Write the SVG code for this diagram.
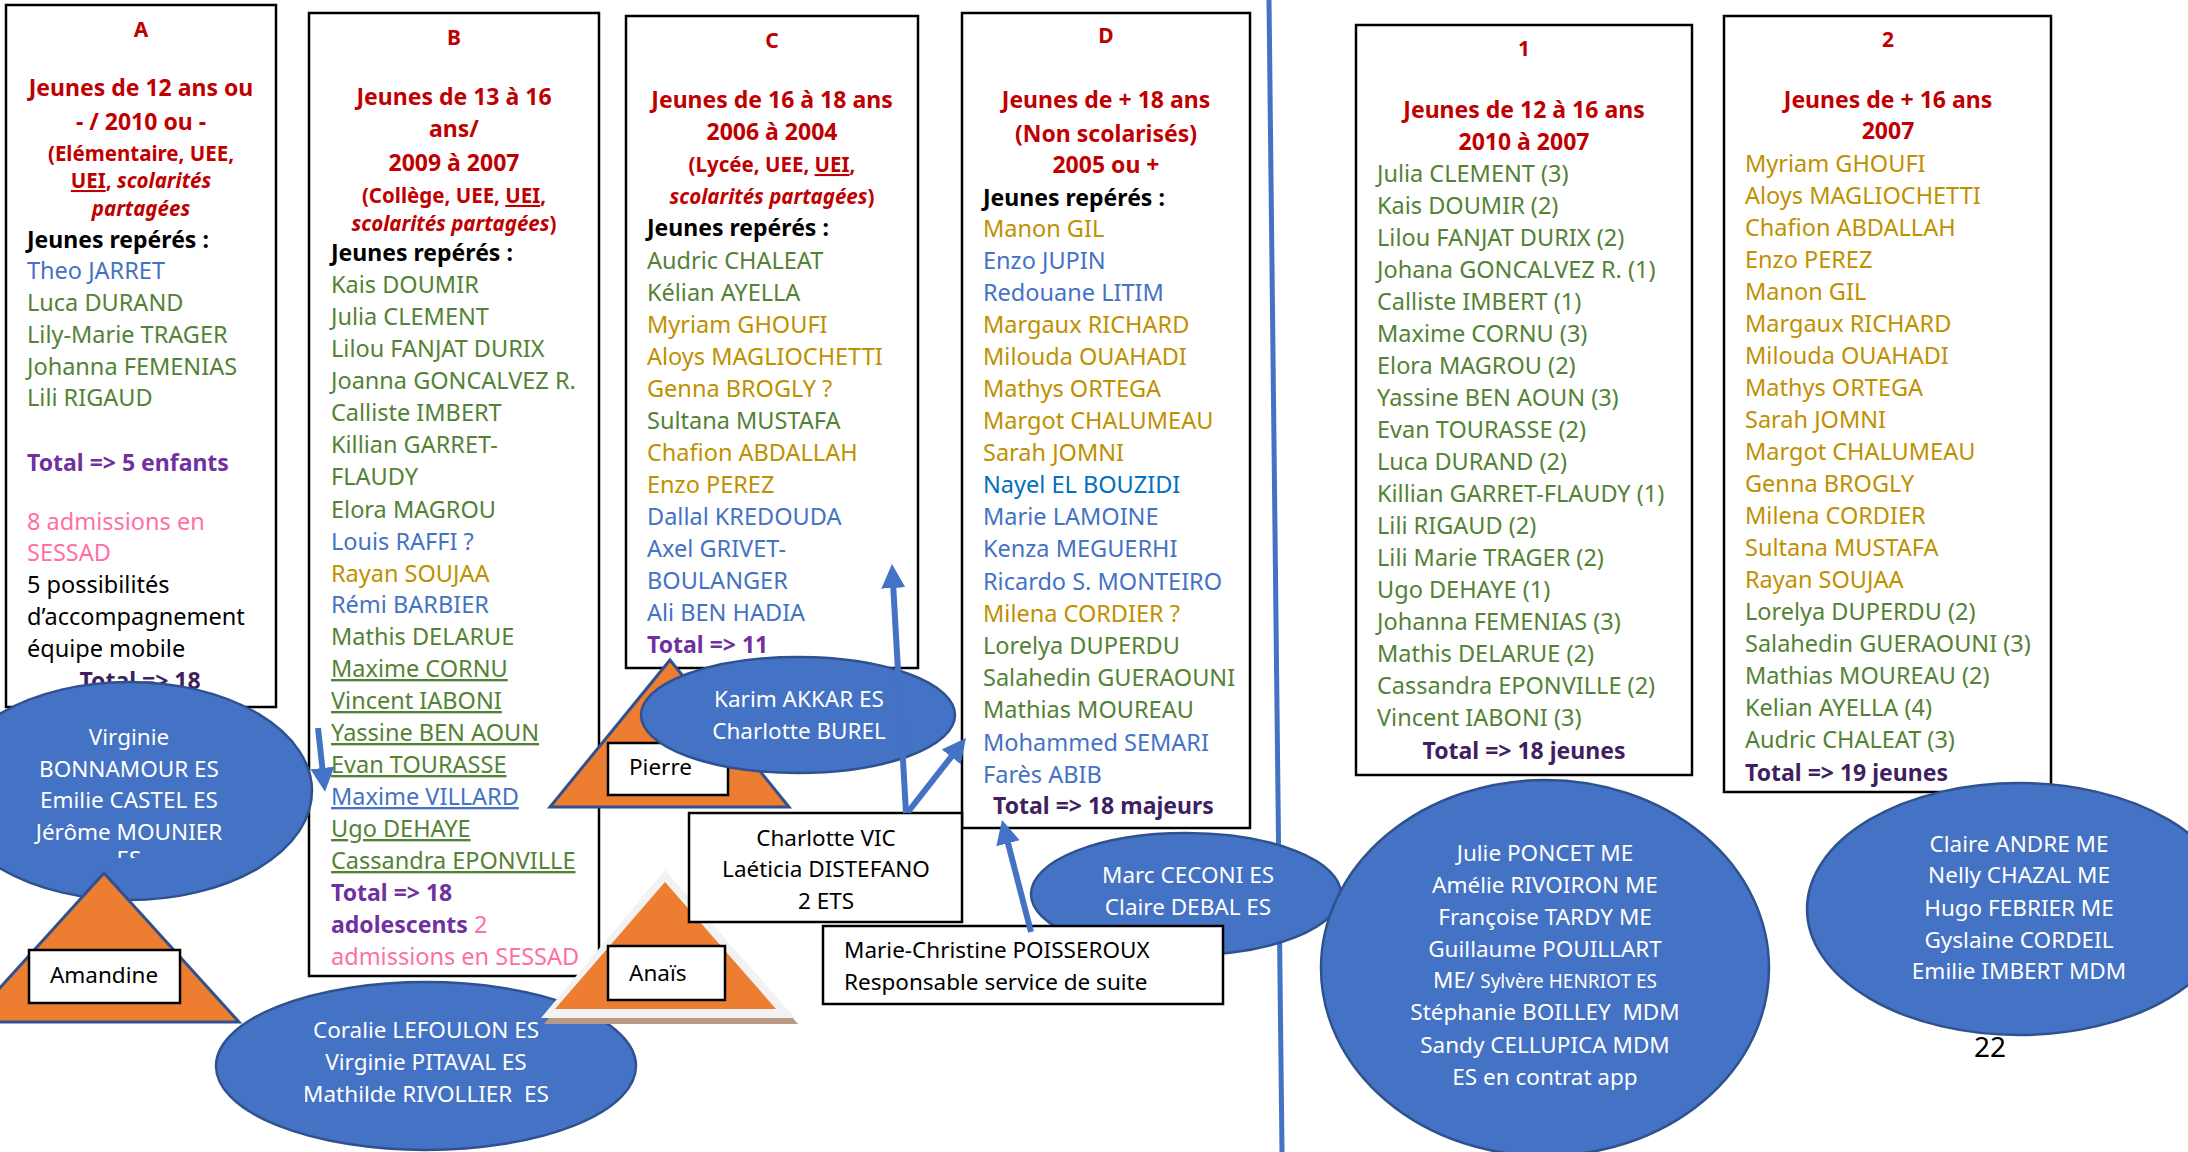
<svg xmlns="http://www.w3.org/2000/svg" width="2188" height="1152" viewBox="0 0 2188 1152">
<style>
text{font-family:"Noto Sans","Open Sans","DejaVu Sans",sans-serif;}
.box{fill:#fff;stroke:#000;stroke-width:2.5;}
.ti{fill:#C00000;font-weight:bold;font-size:21px;text-anchor:middle;}
.h{fill:#C00000;font-weight:bold;font-size:23px;text-anchor:middle;}
.hs{fill:#C00000;font-weight:bold;font-size:20.5px;text-anchor:middle;}
.it{font-style:italic;}
.u{text-decoration:underline;text-decoration-thickness:2px;}
.k{fill:#000;font-weight:bold;font-size:23px;}
.n{font-size:23.5px;}
.g{fill:#548235;}
.b{fill:#4472C4;}
.y{fill:#BF9000;}
.nb{fill:#0070C0;}
.bk{fill:#000;}
.pk{fill:#FF6FA5;}
.tp{fill:#7030A0;font-weight:bold;font-size:23px;}
.td{fill:#3F1F5F;font-weight:bold;font-size:23px;}
.ell{fill:#4472C4;stroke:#2F528F;stroke-width:2.5;}
.w{fill:#fff;font-size:22.5px;text-anchor:middle;}
.tri{fill:#ED7D31;stroke:#2F528F;stroke-width:3;}
.lb{fill:#fff;stroke:#000;stroke-width:2.5;}
.lt{fill:#000;font-size:22.5px;}
.arr{stroke:#4472C4;stroke-width:6;fill:none;marker-end:url(#ah);}
</style>
<defs>
<marker id="ah" markerUnits="userSpaceOnUse" markerWidth="26" markerHeight="26" viewBox="0 0 26 26" refX="2" refY="13" orient="auto">
<path d="M0,1 L24,13 L0,25 z" fill="#4472C4"/>
</marker>
<clipPath id="clipV"><rect x="-60" y="680" width="400" height="178"/></clipPath>
</defs>
<rect width="2188" height="1152" fill="#fff"/>

<g id="boxA">
<rect class="box" x="6" y="5" width="270" height="702"/>
<text class="ti" x="141" y="37">A</text>
<text class="h" x="141" y="96">Jeunes de 12 ans ou</text>
<text class="h" x="141" y="130">- / 2010 ou -</text>
<text class="hs" x="141" y="161">(Elémentaire, UEE,</text>
<text class="hs" x="141" y="188"><tspan class="u">UEI</tspan>, <tspan class="it">scolarités</tspan></text>
<text class="hs it" x="141" y="216">partagées</text>
<text class="k" x="27" y="248">Jeunes repérés :</text>
<text class="n b" x="27" y="279">Theo JARRET</text>
<text class="n g" x="27" y="311">Luca DURAND</text>
<text class="n g" x="27" y="343">Lily-Marie TRAGER</text>
<text class="n g" x="27" y="375">Johanna FEMENIAS</text>
<text class="n g" x="27" y="406">Lili RIGAUD</text>
<text class="tp" x="27" y="471">Total =&gt; 5 enfants</text>
<text class="n pk" x="27" y="530">8 admissions en</text>
<text class="n pk" x="27" y="561">SESSAD</text>
<text class="n bk" x="27" y="593">5 possibilités</text>
<text class="n bk" x="27" y="625">d’accompagnement</text>
<text class="n bk" x="27" y="657">équipe mobile</text>
<text class="td" x="140" y="689" text-anchor="middle">Total =&gt; 18</text>
</g>

<g id="boxB">
<rect class="box" x="309" y="13" width="290" height="963"/>
<text class="ti" x="454" y="45">B</text>
<text class="h" x="454" y="105">Jeunes de 13 à 16</text>
<text class="h" x="454" y="137">ans/</text>
<text class="h" x="454" y="171">2009 à 2007</text>
<text class="hs" x="454" y="203">(Collège, UEE, <tspan class="u">UEI</tspan>,</text>
<text class="hs" x="454" y="231"><tspan class="it">scolarités partagées</tspan>)</text>
<text class="k" x="331" y="261">Jeunes repérés :</text>
<text class="n g" x="331" y="293">Kais DOUMIR</text>
<text class="n g" x="331" y="325">Julia CLEMENT</text>
<text class="n g" x="331" y="357">Lilou FANJAT DURIX</text>
<text class="n g" x="331" y="389">Joanna GONCALVEZ R.</text>
<text class="n g" x="331" y="421">Calliste IMBERT</text>
<text class="n g" x="331" y="453">Killian GARRET-</text>
<text class="n g" x="331" y="485">FLAUDY</text>
<text class="n g" x="331" y="518">Elora MAGROU</text>
<text class="n b" x="331" y="550">Louis RAFFI ?</text>
<text class="n y" x="331" y="582">Rayan SOUJAA</text>
<text class="n b" x="331" y="613">Rémi BARBIER</text>
<text class="n g" x="331" y="645">Mathis DELARUE</text>
<text class="n g u" x="331" y="677">Maxime CORNU</text>
<text class="n g u" x="331" y="709">Vincent IABONI</text>
<text class="n g u" x="331" y="741">Yassine BEN AOUN</text>
<text class="n g u" x="331" y="773">Evan TOURASSE</text>
<text class="n b u" x="331" y="805">Maxime VILLARD</text>
<text class="n g u" x="331" y="837">Ugo DEHAYE</text>
<text class="n g u" x="331" y="869">Cassandra EPONVILLE</text>
<text class="tp" x="331" y="901">Total =&gt; 18</text>
<text class="tp" x="331" y="933">adolescents<tspan class="pk" font-weight="normal" font-size="23.5"> 2</tspan></text>
<text class="n pk" x="331" y="965">admissions en SESSAD</text>
</g>

<g id="boxC">
<rect class="box" x="626" y="16" width="292" height="652"/>
<text class="ti" x="772" y="48">C</text>
<text class="h" x="772" y="108">Jeunes de 16 à 18 ans</text>
<text class="h" x="772" y="140">2006 à 2004</text>
<text class="hs" x="772" y="172">(Lycée, UEE, <tspan class="u">UEI</tspan>,</text>
<text class="hs" x="772" y="204"><tspan class="it">scolarités partagées</tspan>)</text>
<text class="k" x="647" y="236">Jeunes repérés :</text>
<text class="n g" x="647" y="269">Audric CHALEAT</text>
<text class="n g" x="647" y="301">Kélian AYELLA</text>
<text class="n y" x="647" y="333">Myriam GHOUFI</text>
<text class="n y" x="647" y="365">Aloys MAGLIOCHETTI</text>
<text class="n y" x="647" y="397">Genna BROGLY ?</text>
<text class="n g" x="647" y="429">Sultana MUSTAFA</text>
<text class="n y" x="647" y="461">Chafion ABDALLAH</text>
<text class="n y" x="647" y="493">Enzo PEREZ</text>
<text class="n b" x="647" y="525">Dallal KREDOUDA</text>
<text class="n b" x="647" y="557">Axel GRIVET-</text>
<text class="n b" x="647" y="589">BOULANGER</text>
<text class="n b" x="647" y="621">Ali BEN HADIA</text>
<text class="tp" x="647" y="653">Total =&gt; 11</text>
</g>

<g id="boxD">
<rect class="box" x="962" y="13" width="288" height="815"/>
<text class="ti" x="1106" y="43">D</text>
<text class="h" x="1106" y="108">Jeunes de + 18 ans</text>
<text class="h" x="1106" y="142">(Non scolarisés)</text>
<text class="h" x="1106" y="173">2005 ou +</text>
<text class="k" x="983" y="206">Jeunes repérés :</text>
<text class="n y" x="983" y="237">Manon GIL</text>
<text class="n b" x="983" y="269">Enzo JUPIN</text>
<text class="n b" x="983" y="301">Redouane LITIM</text>
<text class="n y" x="983" y="333">Margaux RICHARD</text>
<text class="n y" x="983" y="365">Milouda OUAHADI</text>
<text class="n y" x="983" y="397">Mathys ORTEGA</text>
<text class="n y" x="983" y="429">Margot CHALUMEAU</text>
<text class="n y" x="983" y="461">Sarah JOMNI</text>
<text class="n nb" x="983" y="493">Nayel EL BOUZIDI</text>
<text class="n b" x="983" y="525">Marie LAMOINE</text>
<text class="n b" x="983" y="557">Kenza MEGUERHI</text>
<text class="n b" x="983" y="590">Ricardo S. MONTEIRO</text>
<text class="n y" x="983" y="622">Milena CORDIER ?</text>
<text class="n g" x="983" y="654">Lorelya DUPERDU</text>
<text class="n g" x="983" y="686">Salahedin GUERAOUNI</text>
<text class="n g" x="983" y="718">Mathias MOUREAU</text>
<text class="n b" x="983" y="751">Mohammed SEMARI</text>
<text class="n b" x="983" y="783">Farès ABIB</text>
<text class="td" x="993" y="814">Total =&gt; 18 majeurs</text>
</g>

<g id="box1">
<rect class="box" x="1356" y="25" width="336" height="750"/>
<text class="ti" x="1524" y="56">1</text>
<text class="h" x="1524" y="118">Jeunes de 12 à 16 ans</text>
<text class="h" x="1524" y="150">2010 à 2007</text>
<text class="n g" x="1377" y="182">Julia CLEMENT (3)</text>
<text class="n g" x="1377" y="214">Kais DOUMIR (2)</text>
<text class="n g" x="1377" y="246">Lilou FANJAT DURIX (2)</text>
<text class="n g" x="1377" y="278">Johana GONCALVEZ R. (1)</text>
<text class="n g" x="1377" y="310">Calliste IMBERT (1)</text>
<text class="n g" x="1377" y="342">Maxime CORNU (3)</text>
<text class="n g" x="1377" y="374">Elora MAGROU (2)</text>
<text class="n g" x="1377" y="406">Yassine BEN AOUN (3)</text>
<text class="n g" x="1377" y="438">Evan TOURASSE (2)</text>
<text class="n g" x="1377" y="470">Luca DURAND (2)</text>
<text class="n g" x="1377" y="502">Killian GARRET-FLAUDY (1)</text>
<text class="n g" x="1377" y="534">Lili RIGAUD (2)</text>
<text class="n g" x="1377" y="566">Lili Marie TRAGER (2)</text>
<text class="n g" x="1377" y="598">Ugo DEHAYE (1)</text>
<text class="n g" x="1377" y="630">Johanna FEMENIAS (3)</text>
<text class="n g" x="1377" y="662">Mathis DELARUE (2)</text>
<text class="n g" x="1377" y="694">Cassandra EPONVILLE (2)</text>
<text class="n g" x="1377" y="726">Vincent IABONI (3)</text>
<text class="td" x="1524" y="759" text-anchor="middle">Total =&gt; 18 jeunes</text>
</g>

<g id="box2">
<rect class="box" x="1724" y="16" width="327" height="776"/>
<text class="ti" x="1888" y="47">2</text>
<text class="h" x="1888" y="108">Jeunes de + 16 ans</text>
<text class="h" x="1888" y="139">2007</text>
<text class="n y" x="1745" y="172">Myriam GHOUFI</text>
<text class="n y" x="1745" y="204">Aloys MAGLIOCHETTI</text>
<text class="n y" x="1745" y="236">Chafion ABDALLAH</text>
<text class="n y" x="1745" y="268">Enzo PEREZ</text>
<text class="n y" x="1745" y="300">Manon GIL</text>
<text class="n y" x="1745" y="332">Margaux RICHARD</text>
<text class="n y" x="1745" y="364">Milouda OUAHADI</text>
<text class="n y" x="1745" y="396">Mathys ORTEGA</text>
<text class="n y" x="1745" y="428">Sarah JOMNI</text>
<text class="n y" x="1745" y="460">Margot CHALUMEAU</text>
<text class="n y" x="1745" y="492">Genna BROGLY</text>
<text class="n y" x="1745" y="524">Milena CORDIER</text>
<text class="n y" x="1745" y="556">Sultana MUSTAFA</text>
<text class="n y" x="1745" y="588">Rayan SOUJAA</text>
<text class="n g" x="1745" y="620">Lorelya DUPERDU (2)</text>
<text class="n g" x="1745" y="652">Salahedin GUERAOUNI (3)</text>
<text class="n g" x="1745" y="684">Mathias MOUREAU (2)</text>
<text class="n g" x="1745" y="716">Kelian AYELLA (4)</text>
<text class="n g" x="1745" y="748">Audric CHALEAT (3)</text>
<text class="td" x="1745" y="781">Total =&gt; 19 jeunes</text>
</g>

<g id="divider">
<line x1="1269" y1="0" x2="1282" y2="1152" stroke="#4472C4" stroke-width="5"/>
</g>

<g id="ellipseVirginie">
<ellipse class="ell" cx="129" cy="791" rx="183" ry="109"/>
<text class="w" x="129" y="745">Virginie</text>
<text class="w" x="129" y="777">BONNAMOUR ES</text>
<text class="w" x="129" y="808">Emilie CASTEL ES</text>
<text class="w" x="129" y="840">Jérôme MOUNIER</text>
<text class="w" x="129" y="867" clip-path="url(#clipV)">ES</text>
</g>

<g id="triAmandine">
<polygon class="tri" points="104,873 239,1022 -31,1022"/>
<rect class="lb" x="29" y="950" width="151" height="53"/>
<text class="lt" x="104" y="983" text-anchor="middle">Amandine</text>
</g>

<g id="ellipseCoralie">
<ellipse class="ell" cx="426" cy="1066" rx="210" ry="84"/>
<text class="w" x="426" y="1038">Coralie LEFOULON ES</text>
<text class="w" x="426" y="1070">Virginie PITAVAL ES</text>
<text class="w" x="426" y="1102" xml:space="preserve">Mathilde RIVOLLIER  ES</text>
</g>

<g id="triAnais">
<polygon points="668,874 798,1024 544,1024" fill="#B89A84"/>
<polygon points="665,870 795,1018 541,1018" fill="#F2F2F2"/>
<polygon points="665,882 776,1009 555,1009" fill="#ED7D31"/>
<rect class="lb" x="608" y="946" width="117" height="54"/>
<text class="lt" x="629" y="981">Anaïs</text>
</g>

<g id="triPierre">
<polygon class="tri" points="670,660 789,807 550,807"/>
<rect class="lb" x="608" y="743" width="120" height="52"/>
<text class="lt" x="629" y="775">Pierre</text>
</g>

<g id="ellipseKarim">
<ellipse class="ell" cx="798" cy="715" rx="157" ry="58"/>
<text class="w" x="799" y="707">Karim AKKAR ES</text>
<text class="w" x="799" y="739">Charlotte BUREL</text>
</g>

<g id="boxCharlotte">
<rect class="lb" x="689" y="813" width="273" height="109"/>
<text class="lt" x="826" y="846" text-anchor="middle">Charlotte VIC</text>
<text class="lt" x="826" y="877" text-anchor="middle">Laéticia DISTEFANO</text>
<text class="lt" x="826" y="909" text-anchor="middle">2 ETS</text>
</g>

<g id="ellipseMarc">
<ellipse class="ell" cx="1186" cy="894" rx="155" ry="61"/>
<text class="w" x="1188" y="883">Marc CECONI ES</text>
<text class="w" x="1188" y="915">Claire DEBAL ES</text>
</g>

<g id="boxPoisseroux">
<rect class="lb" x="823" y="926" width="400" height="78"/>
<text class="lt" x="844" y="958">Marie-Christine POISSEROUX</text>
<text class="lt" x="844" y="990">Responsable service de suite</text>
</g>

<g id="ellipseJulie">
<ellipse class="ell" cx="1545" cy="968" rx="224" ry="188"/>
<text class="w" x="1545" y="861">Julie PONCET ME</text>
<text class="w" x="1545" y="893">Amélie RIVOIRON ME</text>
<text class="w" x="1545" y="925">Françoise TARDY ME</text>
<text class="w" x="1545" y="957">Guillaume POUILLART</text>
<text class="w" x="1545" y="988">ME/ <tspan font-size="19px">Sylvère HENRIOT ES</tspan></text>
<text class="w" x="1545" y="1020" xml:space="preserve">Stéphanie BOILLEY  MDM</text>
<text class="w" x="1545" y="1053">Sandy CELLUPICA MDM</text>
<text class="w" x="1545" y="1085">ES en contrat app</text>
</g>

<g id="ellipseClaire">
<ellipse class="ell" cx="2019" cy="909" rx="212" ry="126"/>
<text class="w" x="2019" y="852">Claire ANDRE ME</text>
<text class="w" x="2019" y="883">Nelly CHAZAL ME</text>
<text class="w" x="2019" y="916">Hugo FEBRIER ME</text>
<text class="w" x="2019" y="948">Gyslaine CORDEIL</text>
<text class="w" x="2019" y="979">Emilie IMBERT MDM</text>
</g>

<g id="connectors">
<line class="arr" x1="318" y1="728" x2="322.6" y2="770"/>
<line class="arr" x1="906" y1="813" x2="893.2" y2="586"/>
<line class="arr" x1="908" y1="812" x2="952.4" y2="755.3"/>
<line class="arr" x1="1031" y1="932" x2="1007.5" y2="841.3"/>
</g>

<text x="1990" y="1057" font-size="28" fill="#000" text-anchor="middle">22</text>
</svg>
